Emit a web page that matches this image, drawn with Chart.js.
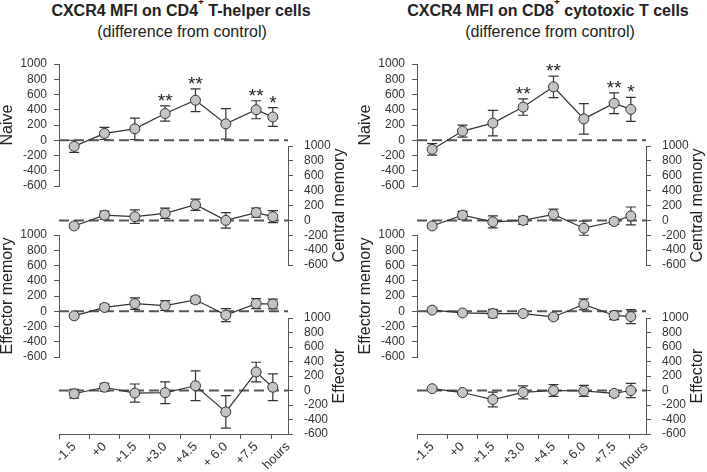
<!DOCTYPE html>
<html><head><meta charset="utf-8">
<script src="https://cdn.jsdelivr.net/npm/chart.js@4.4.0/dist/chart.umd.min.js"></script>
<style>
html,body{margin:0;padding:0;background:#fff;}
#wrap{position:relative;width:707px;height:472px;overflow:hidden;font-family:"Liberation Sans",Arial,sans-serif;color:#222;}
.ttl{position:absolute;font-weight:bold;font-size:16px;line-height:16px;white-space:nowrap;transform:translateX(-50%);}
.sub{position:absolute;font-size:16px;line-height:16px;white-space:nowrap;transform:translateX(-50%);}
.ttl sup{font-size:10px;line-height:0;vertical-align:top;position:relative;top:-1px;}
canvas{position:absolute;}
</style></head>
<body><div id="wrap">
<div class="ttl" style="left:181px;top:3px">CXCR4 MFI on CD4<sup>+</sup> T-helper cells</div>
<div class="sub" style="left:182px;top:24px">(difference from control)</div>
<div class="ttl" style="left:548px;top:3px">CXCR4 MFI on CD8<sup>+</sup> cytotoxic T cells</div>
<div class="sub" style="left:550px;top:24px">(difference from control)</div>
</div>
<script>
// ---------- data ----------
const xLabels      = ['-1.5', '+0', '+1.5', '+3.0', '+4.5', '+ 6.0', '+7.5', 'hours'];
const xLabelSlots  = [0.5, 1.5, 2.5, 3.5, 4.5, 5.5, 6.5, 7.55];
const xTickSlots   = [0, 1, 2, 3, 4, 5, 6, 7];
const timeSlots    = [0.5, 1.5, 2.5, 3.5, 4.5, 5.5, 6.5, 7.05];
const X_MIN = 0, X_MAX = 7.55;
const yTickValues  = [-600, -400, -200, 0, 200, 400, 600, 800, 1000];
const Y_MIN = -600, Y_MAX = 1000;

const rowTitles = ['Naive', 'Central memory', 'Effector memory', 'Effector'];

const cd4NaiveMean = [-80, 90, 150, 350, 525, 215, 400, 305];
const cd4NaiveErr  = [80, 80, 140, 100, 150, 200, 118, 122];
const cd4CMMean    = [-75, 70, 50, 95, 210, 0, 105, 50];
const cd4CMErr     = [25, 55, 90, 70, 75, 105, 60, 80];
const cd4EMMean    = [-60, 50, 100, 75, 150, -50, 100, 95];
const cd4EMErr     = [25, 40, 75, 65, 45, 85, 65, 65];
const cd4EffMean   = [-45, 45, -35, -30, 65, -295, 255, 45];
const cd4EffErr    = [60, 55, 125, 150, 205, 225, 135, 185];

const cd8NaiveMean = [-120, 120, 225, 435, 700, 280, 485, 405];
const cd8NaiveErr  = [75, 78, 168, 107, 140, 200, 137, 158];
const cd8CMMean    = [-75, 70, -20, 0, 80, -105, -15, 60];
const cd8CMErr     = [25, 52, 80, 55, 72, 95, 40, 120];
const cd8EMMean    = [15, -22, -30, -30, -75, 90, -55, -70];
const cd8EMErr     = [25, 20, 55, 25, 30, 72, 55, 92];
const cd8EffMean   = [25, -28, -125, -25, 0, -5, -40, 0];
const cd8EffErr    = [20, 20, 102, 90, 80, 75, 40, 97];

const naiveStars = ['', '', '', '**', '**', '', '**', '*'];
const noStars    = ['', '', '', '', '', '', '', ''];

// ---------- layout (page pixels of each plot area) ----------
const panels = [{L: 59, R: 288}, {L: 417, R: 646}];
const rows = [
  {top: 64,  bottom: 186, side: 'left'},
  {top: 146, bottom: 265, side: 'right'},
  {top: 235, bottom: 357, side: 'left'},
  {top: 318, bottom: 434, side: 'right', showX: true}
];
const AWL = 59, AWR = 62, PAD_IN = 10, PAD_V = 22, XT_H = 5, PAGE_H = 472;

Chart.defaults.font.family = "'Liberation Sans', Arial, sans-serif";
Chart.defaults.color = '#333';

const errorBarPlugin = {
  id: 'errorBars',
  beforeDatasetsDraw(chart, args, opts) {
    const ctx = chart.ctx, xs = chart.scales.x, ys = chart.scales.y;
    ctx.save();
    ctx.strokeStyle = '#333';
    ctx.lineWidth = 1.2;
    opts.mean.forEach((m, i) => {
      const px = xs.getPixelForValue(timeSlots[i]);
      const t = ys.getPixelForValue(m + opts.err[i]);
      const b = ys.getPixelForValue(m - opts.err[i]);
      ctx.beginPath();
      ctx.moveTo(px, t); ctx.lineTo(px, b);
      ctx.moveTo(px - 5, t); ctx.lineTo(px + 5, t);
      ctx.moveTo(px - 5, b); ctx.lineTo(px + 5, b);
      ctx.stroke();
    });
    ctx.restore();
  },
  afterDatasetsDraw(chart, args, opts) {
    const ctx = chart.ctx, xs = chart.scales.x, ys = chart.scales.y;
    ctx.save();
    ctx.fillStyle = '#222';
    ctx.font = "19px 'Liberation Sans', Arial, sans-serif";
    ctx.textAlign = 'center';
    ctx.textBaseline = 'alphabetic';
    opts.stars.forEach((s, i) => {
      if (!s) return;
      const px = xs.getPixelForValue(timeSlots[i]);
      const t = ys.getPixelForValue(opts.mean[i] + opts.err[i]);
      ctx.fillText(s, px, t + 1);
    });
    ctx.restore();
  }
};

const rightTitlePlugin = {
  id: 'rightTitle',
  afterDraw(chart, args, opts) {
    if (!opts.text) return;
    const a = chart.chartArea, ctx = chart.ctx;
    ctx.save();
    ctx.translate(a.right + 52, (a.top + a.bottom) / 2);
    ctx.rotate(-Math.PI / 2);
    ctx.fillStyle = '#222';
    ctx.font = "16px 'Liberation Sans', Arial, sans-serif";
    ctx.textAlign = 'center';
    ctx.textBaseline = 'middle';
    ctx.fillText(opts.text, 0, 0);
    ctx.restore();
  }
};

function makeChart(panel, row, title, mean, err, stars) {
  const left = row.side === 'left';
  const showX = !!row.showX;
  const cLeft = left ? panel.L - AWL : panel.L - PAD_IN;
  const cW = left ? AWL + (panel.R - panel.L) + PAD_IN : PAD_IN + (panel.R - panel.L) + AWR;
  const cTop = row.top - PAD_V;
  const areaH = row.bottom - row.top;
  const cH = showX ? PAGE_H - cTop : areaH + 2 * PAD_V;
  const labelAxisH = cH - PAD_V - areaH - XT_H;

  const cv = document.createElement('canvas');
  cv.width = cW; cv.height = cH;
  cv.style.left = cLeft + 'px'; cv.style.top = cTop + 'px';
  cv.style.width = cW + 'px'; cv.style.height = cH + 'px';
  document.getElementById('wrap').appendChild(cv);

  new Chart(cv, {
    type: 'line',
    data: {
      datasets: [
        {
          data: timeSlots.map((x, i) => ({x, y: mean[i]})),
          borderColor: '#333', borderWidth: 1.2,
          pointRadius: 5, pointBackgroundColor: '#c4c4c4',
          pointBorderColor: '#333', pointBorderWidth: 1,
          clip: false, order: 1
        },
        {
          data: [{x: X_MIN, y: 0}, {x: X_MAX, y: 0}],
          borderColor: '#555', borderWidth: 2, borderDash: [10, 5],
          pointRadius: 0, clip: false, order: 2
        }
      ]
    },
    options: {
      responsive: false, animation: false, devicePixelRatio: 1,
      layout: {padding: {
        left: left ? 0 : PAD_IN, right: left ? PAD_IN : 0,
        top: PAD_V, bottom: showX ? 0 : PAD_V}},
      plugins: {
        legend: {display: false}, tooltip: {enabled: false},
        errorBars: {mean, err, stars},
        rightTitle: {text: left ? '' : title}
      },
      scales: {
        x: {
          type: 'linear', min: X_MIN, max: X_MAX, display: showX,
          position: 'bottom', weight: 1,
          grid: {display: false, drawTicks: false}, border: {display: false},
          afterBuildTicks: s => { s.ticks = xLabelSlots.map(v => ({value: v})); },
          afterFit: s => { if (showX) s.height = labelAxisH; },
          ticks: {autoSkip: false, minRotation: 45, maxRotation: 45, padding: 0,
                  color: '#333', font: {size: 13},
                  callback: (v, i) => xLabels[i]}
        },
        xt: {
          type: 'linear', axis: 'x', min: X_MIN, max: X_MAX, display: showX,
          position: 'bottom', weight: 0,
          grid: {drawOnChartArea: false, tickLength: XT_H, color: '#555'},
          border: {display: true, color: '#555'},
          ticks: {display: false},
          afterBuildTicks: s => { s.ticks = xTickSlots.map(v => ({value: v})); },
          afterFit: s => { if (showX) s.height = XT_H; }
        },
        y: {
          type: 'linear', position: row.side, min: Y_MIN, max: Y_MAX,
          afterBuildTicks: s => { s.ticks = yTickValues.map(v => ({value: v})); },
          afterFit: s => { s.width = left ? AWL : AWR; },
          grid: {drawOnChartArea: false, tickLength: 5, color: '#555'},
          border: {color: '#555'},
          ticks: {autoSkip: false, padding: left ? 7 : 11, color: '#333', font: {size: 12},
                  callback: v => String(v)},
          title: {display: left, text: title, color: '#222',
                  font: {size: 16, lineHeight: 1}, padding: 0}
        }
      }
    },
    plugins: [errorBarPlugin, rightTitlePlugin]
  });
}

const cd4Series = [[cd4NaiveMean, cd4NaiveErr, naiveStars], [cd4CMMean, cd4CMErr, noStars],
                   [cd4EMMean, cd4EMErr, noStars], [cd4EffMean, cd4EffErr, noStars]];
const cd8Series = [[cd8NaiveMean, cd8NaiveErr, naiveStars], [cd8CMMean, cd8CMErr, noStars],
                   [cd8EMMean, cd8EMErr, noStars], [cd8EffMean, cd8EffErr, noStars]];

[cd4Series, cd8Series].forEach((series, p) => {
  series.forEach((s, r) => makeChart(panels[p], rows[r], rowTitles[r], s[0], s[1], s[2]));
});
</script>
</body></html>
